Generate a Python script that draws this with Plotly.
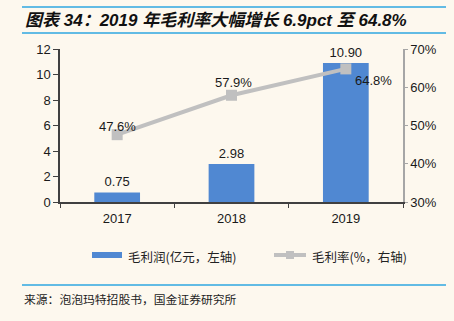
import plotly.graph_objects as go

years = ["2017", "2018", "2019"]
gross_profit = [0.75, 2.98, 10.90]
gross_margin = [47.6, 57.9, 64.8]
profit_labels = ["0.75", "2.98", "10.90"]
margin_labels = ["47.6%", "57.9%", "64.8%"]
legend_names = ["毛利润(亿元，左轴)", "毛利率(%，右轴)"]

BG = "#FDF8EE"
FONT = "Liberation Sans, Noto Sans CJK SC, sans-serif"
CJK = "Noto Sans CJK SC, sans-serif"
BAR = "#5088D2"
LINE = "#C0C0C0"

fig = go.Figure()
fig.add_trace(go.Bar(
    x=years, y=gross_profit, name=legend_names[0],
    marker=dict(color=BAR, line=dict(width=0)),
    text=profit_labels, textposition="outside", cliponaxis=False,
    textfont=dict(size=13, color="#1a1a1a", family=FONT),
    xaxis="x", yaxis="y",
))
fig.add_trace(go.Scatter(
    x=years, y=gross_margin, name=legend_names[1],
    mode="lines+markers",
    line=dict(color=LINE, width=4),
    marker=dict(symbol="square", size=11, color=LINE),
    xaxis="x", yaxis="y2",
))

# labels for the margin line (category index positions on the x axis)
shifts = [(0, 8), (2, 13), (28, -12)]
for i, (v, t, (dx, dy)) in enumerate(zip(gross_margin, margin_labels, shifts)):
    fig.add_annotation(x=i, y=v, xref="x", yref="y2", text=t, showarrow=False,
                       xshift=dx, yshift=dy,
                       font=dict(size=13, color="#1a1a1a", family=FONT))

def py(pix):
    return (202 - pix) / 153

def px(pix):
    return (pix - 60) / 343

line_col = "#2EA7E0"
for yy in (7, 33, 285):
    fig.add_shape(type="line", xref="paper", yref="paper",
                  x0=px(22), x1=px(446), y0=py(yy), y1=py(yy),
                  line=dict(color=line_col, width=1.5))

# manual legend
fig.add_shape(type="rect", xref="paper", yref="paper",
              x0=px(92), x1=px(122), y0=py(258), y1=py(252),
              fillcolor=BAR, line=dict(width=0))
fig.add_annotation(xref="paper", yref="paper", x=px(126), y=py(256),
                   xanchor="left", yanchor="middle", showarrow=False,
                   text=legend_names[0], font=dict(size=12.5, color="#222222", family=CJK))
fig.add_shape(type="line", xref="paper", yref="paper",
              x0=px(274), x1=px(306), y0=py(255), y1=py(255),
              line=dict(color=LINE, width=4))
fig.add_shape(type="rect", xref="paper", yref="paper",
              x0=px(286), x1=px(294), y0=py(259), y1=py(251),
              fillcolor=LINE, line=dict(width=0))
fig.add_annotation(xref="paper", yref="paper", x=px(310), y=py(256),
                   xanchor="left", yanchor="middle", showarrow=False,
                   text=legend_names[1], font=dict(size=12.5, color="#222222", family=CJK))

fig.add_annotation(xref="paper", yref="paper", x=px(23), y=py(20),
                   xanchor="left", yanchor="middle", showarrow=False,
                   text="<b><i>图表 34：2019 年毛利率大幅增长 6.9pct 至 64.8%</i></b>",
                   font=dict(size=17, color="#111111", family=FONT))
fig.add_annotation(xref="paper", yref="paper", x=px(22), y=py(298),
                   xanchor="left", yanchor="middle", showarrow=False,
                   text="来源：泡泡玛特招股书，国金证券研究所",
                   font=dict(size=11.8, color="#222222", family=CJK))

fig.update_layout(
    width=454, height=321, paper_bgcolor=BG, plot_bgcolor=BG,
    margin=dict(l=60, r=51, t=49, b=119),
    showlegend=False, bargap=0.6,
    xaxis=dict(type="category", categoryorder="array", categoryarray=years,
               range=[-0.5, 2.5], autorange=False,
               showline=True, linecolor="#404040", linewidth=1.5,
               ticks="outside", ticklen=4, tickcolor="#404040",
               tickson="boundaries", showgrid=False, tickangle=0,
               ticklabelstandoff=4,
               tickfont=dict(size=13, color="#1a1a1a", family=FONT)),
    yaxis=dict(range=[0, 12], dtick=2, showline=True, linecolor="#404040", linewidth=1.5,
               ticks="outside", ticklen=5, tickcolor="#404040", showgrid=False,
               zeroline=False,
               tickfont=dict(size=13, color="#1a1a1a", family=FONT)),
    yaxis2=dict(range=[30, 70], dtick=10, overlaying="y", side="right",
                showline=True, linecolor="#A6A6A6", linewidth=1.5,
                ticks="outside", ticklen=3, tickcolor="#A6A6A6",
                ticksuffix="%", showgrid=False, zeroline=False,
                tickfont=dict(size=13, color="#1a1a1a", family=FONT)),
)

fig.write_html("out.html")
